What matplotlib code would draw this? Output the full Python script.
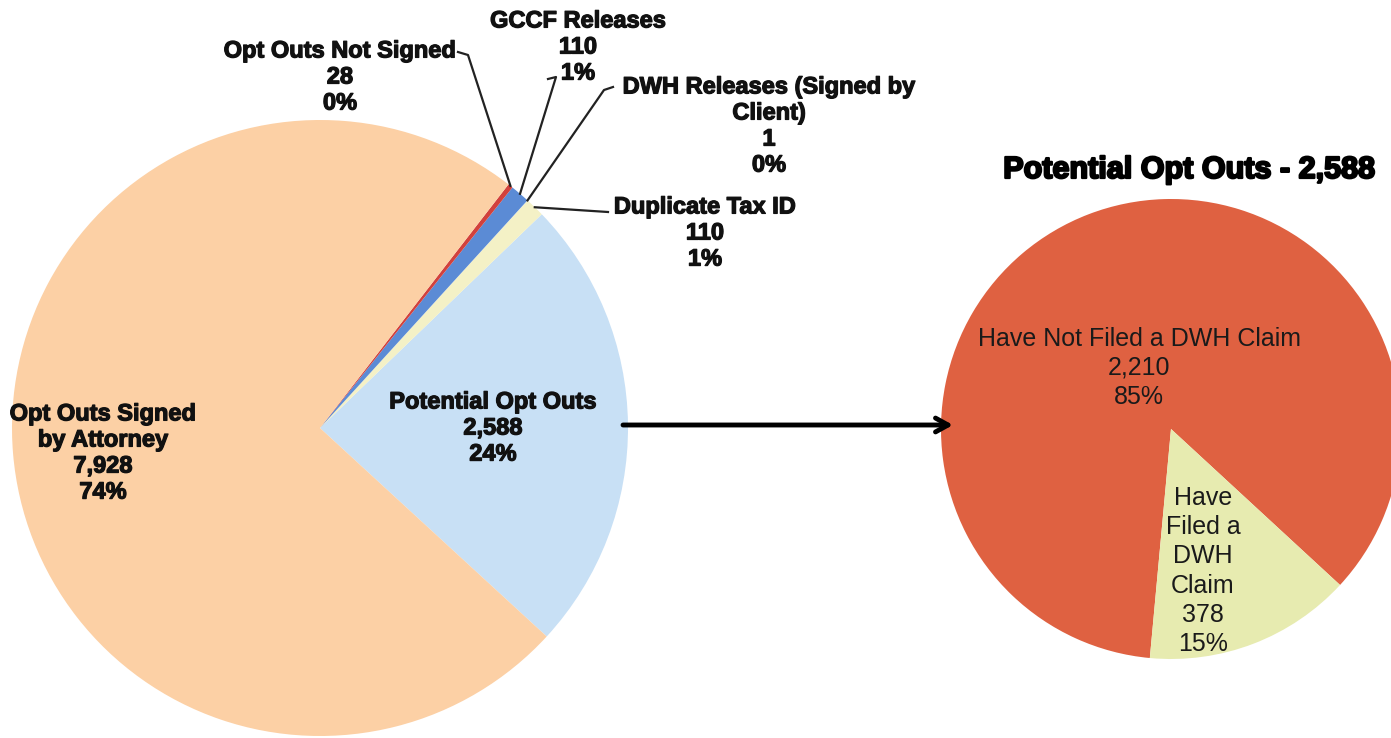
import matplotlib
matplotlib.use("Agg")
import matplotlib.pyplot as plt
import matplotlib.patheffects as pe
import numpy as np

plt.rcParams['font.family'] = ['Liberation Sans', 'DejaVu Sans']

# left pie: all opt outs (listed in drawing order, starting at the lower right)
all_labels = ['Potential Opt Outs', 'Duplicate Tax ID', 'DWH Releases (Signed by\nClient)',
              'GCCF Releases', 'Opt Outs Not Signed', 'Opt Outs Signed\nby Attorney']
all_values = [2588, 110, 1, 110, 28, 7928]
all_colors = ['#c8e0f5', '#f4f1c6', '#e6edf7', '#5b8bd5', '#d2413d', '#fcd0a5']

# right pie: breakdown of the potential opt outs
pot_title = 'Potential Opt Outs - 2,588'
pot_labels = ['Have Not Filed a DWH Claim', 'Have\nFiled a\nDWH\nClaim']
pot_values = [2210, 378]
pot_colors = ['#df6141', '#e7ebb0']

W, H = 1391, 738
fig = plt.figure(figsize=(W / 100, H / 100), dpi=100)
ax = fig.add_axes([0, 0, 1, 1])

c1, r1 = (320, 428), 308
c2, r2 = (1171, 429), 230

# y axis is flipped below, so draw clockwise to get Excel's layout
w1, _ = ax.pie(all_values, colors=all_colors, center=c1, radius=r1, startangle=42.6,
               counterclock=False, wedgeprops=dict(linewidth=0))
w2, _ = ax.pie(pot_values, colors=pot_colors, center=c2, radius=r2, startangle=42.7,
               counterclock=False, wedgeprops=dict(linewidth=0))
ax.set_xlim(0, W)
ax.set_ylim(H, 0)
ax.set_aspect('equal')
ax.axis('off')


def lab(label, v, tot):
    return f"{label}\n{v:,}\n{round(100 * v / tot)}%"


tot1 = sum(all_values)
tot2 = sum(pot_values)
heavy = [pe.withStroke(linewidth=0.9, foreground='#111111')]

# text anchor, and leader path start (None = label sits inside the slice)
left_pos = [
    ((493, 428), None),
    ((705, 233), [(608, 212)]),
    ((769, 126), [(613, 87), (604, 90)]),
    ((578, 47), [(548, 79), (556, 77)]),
    ((340, 77), [(458, 52), (468, 55)]),
    ((103, 453), None),
]
for wdg, label, v, (txy, lead) in zip(w1, all_labels, all_values, left_pos):
    ax.text(txy[0], txy[1], lab(label, v, tot1), ha='center', va='center', fontsize=17,
            fontweight='bold', linespacing=1.17, color='#111111', path_effects=heavy)
    if lead:
        th = np.deg2rad((wdg.theta1 + wdg.theta2) / 2)
        tip = (c1[0] + r1 * np.cos(th), c1[1] + r1 * np.sin(th))
        pts = lead + [tip]
        ax.plot([p[0] for p in pts], [p[1] for p in pts], color='#222222', lw=1.6)

right_pos = [(1139, 368), (1203, 571)]
for label, v, txy in zip(pot_labels, pot_values, right_pos):
    ax.text(txy[0], txy[1], lab(label, v, tot2), ha='center', va='center', fontsize=18,
            linespacing=1.27, color='#1a1a1a')

ax.text(1189, 170, pot_title, ha='center', va='center', fontsize=22, fontweight='bold',
        path_effects=[pe.withStroke(linewidth=1.6, foreground='black')])

ax.annotate('', xy=(953, 425), xytext=(623, 425),
            arrowprops=dict(arrowstyle='->,head_length=0.9,head_width=0.5', lw=3.5,
                            color='black', shrinkA=0, shrinkB=0))

fig.savefig('out.png', dpi=100)
